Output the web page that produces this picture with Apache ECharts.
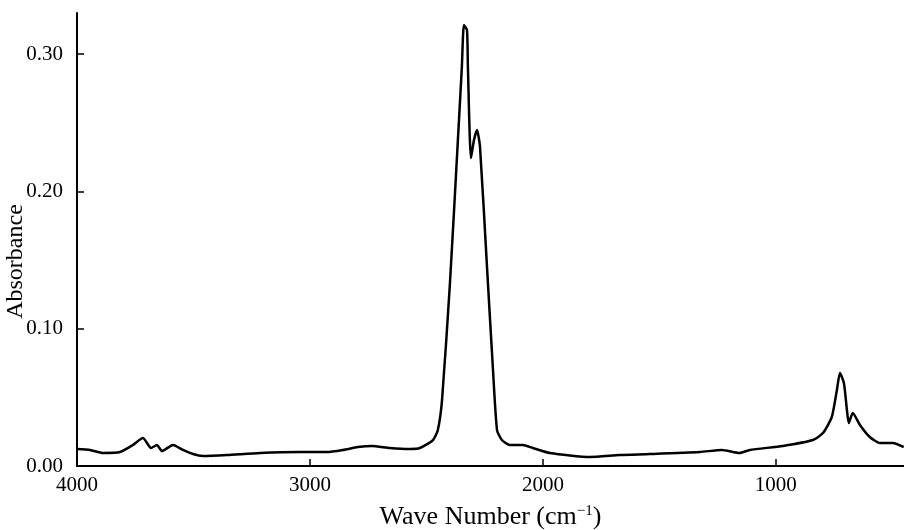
<!DOCTYPE html>
<html>
<head>
<meta charset="utf-8">
<script src="https://cdn.jsdelivr.net/npm/echarts@6/dist/echarts.min.js"></script>
<style>
  html, body { margin: 0; padding: 0; background: #fff; }
  #chart { width: 904px; height: 530px; }
</style>
</head>
<body>
<div id="chart"></div>
<script>
// wave numbers (cm-1) from left to right
const waveNumbers = [
  4000, 3944, 3888, 3815, 3760, 3717, 3682, 3657, 3635, 3588,
  3545, 3502, 3459, 3356, 3215, 3043, 2927, 2858, 2794, 2734,
  2657, 2571, 2528, 2472, 2451, 2433, 2399, 2365, 2348, 2339,
  2326, 2322, 2309, 2296, 2283, 2270, 2240, 2215, 2197, 2176,
  2142, 2086, 2043, 1970, 1798, 1670, 1541, 1326, 1232, 1155,
  1112, 970, 841, 798, 760, 738, 725, 708, 695, 687,
  670, 639, 597, 554, 498, 451
]
// absorbance at each wave number
const absorbance = [
  0.0124, 0.0117, 0.0095, 0.0102, 0.0153, 0.0204, 0.0131, 0.0153, 0.0109, 0.0153,
  0.0117, 0.0087, 0.0073, 0.0080, 0.0095, 0.0102, 0.0102, 0.0117, 0.0138, 0.0146,
  0.0131, 0.0124, 0.0131, 0.0189, 0.0262, 0.0481, 0.1333, 0.2374, 0.2906, 0.3212,
  0.3176, 0.2906, 0.2243, 0.2374, 0.2447, 0.2323, 0.1449, 0.0721, 0.0262, 0.0189,
  0.0153, 0.0153, 0.0131, 0.0095, 0.0066, 0.0080, 0.0087, 0.0102, 0.0117, 0.0095,
  0.0117, 0.0146, 0.0189, 0.0240, 0.0357, 0.0554, 0.0677, 0.0605, 0.0408, 0.0313,
  0.0386, 0.0299, 0.0211, 0.0168, 0.0168, 0.0138
]
const xTicks = [1000, 2000, 3000, 4000]
const yTicks = [0, 0.1, 0.2, 0.3]

const serif = 'Liberation Serif'
const data = waveNumbers.map((w, i) => [w, absorbance[i]])

const chart = echarts.init(document.getElementById('chart'))
chart.setOption({
  animation: false,
  grid: { left: 77, right: 0, top: 13, bottom: 64, outerBoundsMode: 'none', containLabel: false },
  xAxis: {
    type: 'value',
    inverse: true,
    min: 450,
    max: 4000,
    name: 'Wave Number (cm{sup|\u22121})',
    nameLocation: 'middle',
    nameGap: 38,
    nameMoveOverlap: false,
    nameTextStyle: {
      fontFamily: serif, fontSize: 26, color: '#000',
      rich: { sup: { fontFamily: serif, fontSize: 15, color: '#000', padding: [0, 0, 12, 0] } }
    },
    splitLine: { show: false },
    axisLine: { lineStyle: { color: '#000', width: 2 } },
    axisTick: { inside: true, length: 7, customValues: xTicks, lineStyle: { color: '#000', width: 1.5 } },
    axisLabel: {
      customValues: xTicks, margin: 9,
      formatter: v => String(v),
      fontFamily: serif, fontSize: 21, color: '#000'
    }
  },
  yAxis: {
    type: 'value',
    min: 0,
    max: 0.33,
    name: 'Absorbance',
    nameLocation: 'middle',
    nameRotate: 90,
    nameGap: 49,
    nameMoveOverlap: false,
    nameTextStyle: { fontFamily: serif, fontSize: 24, color: '#000', padding: [0, 44, 0, 0] },
    splitLine: { show: false },
    axisLine: { show: true, lineStyle: { color: '#000', width: 2 } },
    axisTick: { show: true, inside: true, length: 7, customValues: yTicks, lineStyle: { color: '#000', width: 1.5 } },
    axisLabel: {
      customValues: yTicks, margin: 14,
      formatter: v => v.toFixed(2),
      fontFamily: serif, fontSize: 21, color: '#000'
    }
  },
  series: [{
    type: 'line',
    data: data,
    smooth: 0.2,
    showSymbol: false,
    lineStyle: { color: '#000', width: 2.5 }
  }]
})
</script>
</body>
</html>
